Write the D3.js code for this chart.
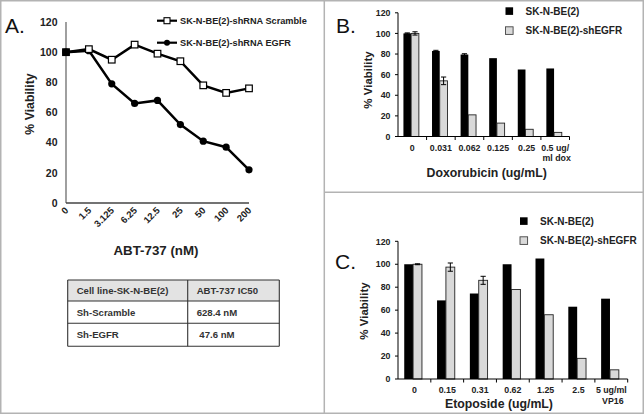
<!DOCTYPE html>
<html><head><meta charset="utf-8">
<script src="https://cdn.jsdelivr.net/npm/d3@7"></script>
<style>body{margin:0;background:#fff}svg{display:block;font-family:"Liberation Sans",Arial,sans-serif}</style>
</head><body><svg id="c" width="644" height="415"></svg>
<script>
// ---- Panel A data ----
const abtDoses = ["0","1.5","3.125","6.25","12.5","25","50","100","200"];
const scrambleVals = [100,102,95,105,99,94,78,73,76];
const egfrVals = [100,101,79,66,68,52,41,37,22];
const viabilityTicks = [0,20,40,60,80,100,120];
const tableHeader = ["Cell line-SK-N-BE(2)","ABT-737 IC50"];
const tableRows = [["Sh-Scramble","628.4 nM"],["Sh-EGFR"," 47.6 nM"]];
// ---- Panel B data ----
const doxDoses = [["0"],["0.031"],["0.062"],["0.125"],["0.25"],["0.5 ug/","ml dox"]];
const doxParent = [100,83,79.5,76,65,66];
const doxParentErr = [0.5,0.6,0.8,0,0,0];
const doxSh = [100,54,21,13,7,4];
const doxShErr = [1.6,3.7,0,0,0,0];
// ---- Panel C data ----
const etoDoses = [["0"],["0.15"],["0.31"],["0.62"],["1.25"],["2.5"],["5 ug/ml","VP16"]];
const etoParent = [100,68.5,74.5,100,105,63,70];
const etoParentErr = [0,0,0,0,0,0,0];
const etoSh = [100,97.5,86,78,56,18,8];
const etoShErr = [0.4,3.6,3.5,0,0,0,0];
const seriesNames = ["SK-N-BE(2)","SK-N-BE(2)-shEGFR"];
const lineNames = ["SK-N-BE(2)-shRNA Scramble","SK-N-BE(2)-shRNA EGFR"];

const svg = d3.select("#c");
const B = "bold";

// frame
svg.append("rect").attr("x",0.75).attr("y",0.75).attr("width",642.5).attr("height",412.5)
  .attr("fill","none").attr("stroke","#b3b3b3").attr("stroke-width",1.5);
svg.append("line").attr("x1",324.3).attr("x2",324.3).attr("y1",0).attr("y2",414).attr("stroke","#b3b3b3").attr("stroke-width",1.5);
svg.append("line").attr("x1",324.3).attr("x2",644).attr("y1",192.3).attr("y2",192.3).attr("stroke","#b3b3b3").attr("stroke-width",1.5);

// panel letters
[["A.",5,33.3],["B.",336,33.3],["C.",335,269]].forEach(([t,x,y])=>
  svg.append("text").attr("x",x).attr("y",y).attr("font-size",21).attr("fill","#111").text(t));

// ===== Panel A =====
{
  const x = d3.scalePoint().domain(abtDoses).range([66,249]).padding(0);
  const y = d3.scaleLinear().domain([0,120]).range([203,22]);
  const g = svg.append("g");
  g.append("line").attr("x1",66).attr("x2",66).attr("y1",y(120)).attr("y2",y(0)).attr("stroke","#888").attr("stroke-width",1.6);
  g.append("line").attr("x1",66).attr("x2",249).attr("y1",y(0)).attr("y2",y(0)).attr("stroke","#444").attr("stroke-width",1.6);
  g.selectAll(".yt").data(viabilityTicks).join("text").attr("x",57.5).attr("y",d=>y(d)+3.8)
    .attr("text-anchor","end").attr("font-size",10.5).attr("font-weight",B).attr("fill","#222").text(d=>d);
  g.selectAll(".xt").data(abtDoses).join("text")
    .attr("transform",d=>`translate(${x(d)+3},${211}) rotate(-45)`)
    .attr("text-anchor","end").attr("font-size",9.5).attr("font-weight",B).attr("fill","#222").text(d=>d);
  g.append("text").attr("x",156).attr("y",254.5).attr("text-anchor","middle").attr("font-size",13.3).attr("font-weight",B).attr("fill","#222").text("ABT-737 (nM)");
  g.append("text").attr("transform","translate(34,104) rotate(-90)").attr("text-anchor","middle").attr("font-size",12.3).attr("font-weight",B).attr("fill","#222").text("% Viability");
  const line = d3.line().x((d,i)=>x(abtDoses[i])).y(d=>y(d));
  g.append("path").attr("d",line(scrambleVals)).attr("fill","none").attr("stroke","#000").attr("stroke-width",2.5);
  g.append("path").attr("d",line(egfrVals)).attr("fill","none").attr("stroke","#000").attr("stroke-width",2.5);
  g.selectAll(".cs").data(egfrVals).join("circle").attr("cx",(d,i)=>x(abtDoses[i])).attr("cy",d=>y(d)).attr("r",3.6).attr("fill","#000");
  g.selectAll(".sq").data(scrambleVals).join("rect").attr("x",(d,i)=>x(abtDoses[i])-3.3).attr("y",d=>y(d)-3.3)
    .attr("width",6.6).attr("height",6.6).attr("fill",(d,i)=>i===0?"#000":"#fff").attr("stroke","#000").attr("stroke-width",1.2);
  // legend
  [[20.7,"sq"],[42.7,"c"]].forEach(([ly,m],i)=>{
    g.append("line").attr("x1",157).attr("x2",177).attr("y1",ly).attr("y2",ly).attr("stroke","#000").attr("stroke-width",2.2);
    if(m==="sq") g.append("rect").attr("x",164).attr("y",ly-3).attr("width",6).attr("height",6).attr("fill","#fff").attr("stroke","#000").attr("stroke-width",1.1);
    else g.append("circle").attr("cx",167).attr("cy",ly).attr("r",3).attr("fill","#000");
    g.append("text").attr("x",180).attr("y",ly+3.3).attr("font-size",9.2).attr("font-weight",B).attr("fill","#222").text(lineNames[i]);
  });
  // table
  const tx0=67.7, tx1=187.7, tx2=279.3, rowsY=[280,301,323.3,346.3];
  g.append("rect").attr("x",tx0).attr("y",rowsY[0]).attr("width",tx2-tx0).attr("height",rowsY[1]-rowsY[0]).attr("fill","#e3e3e3");
  const tl = g.append("g").attr("stroke","#333").attr("stroke-width",1.1);
  rowsY.forEach(yy=>tl.append("line").attr("x1",tx0).attr("x2",tx2).attr("y1",yy).attr("y2",yy));
  [tx0,tx1,tx2].forEach(xx=>tl.append("line").attr("x1",xx).attr("x2",xx).attr("y1",rowsY[0]).attr("y2",rowsY[3]));
  const allRows=[tableHeader,...tableRows];
  allRows.forEach((r,i)=>{
    const by=(rowsY[i]+rowsY[i+1])/2+3.4;
    g.append("text").attr("x",76.7).attr("y",by).attr("font-size",9.6).attr("font-weight",B).attr("fill","#333").text(r[0]);
    g.append("text").attr("x",196.7).attr("y",by).attr("font-size",9.6).attr("font-weight",B).attr("fill","#333").attr("xml:space","preserve").style("white-space","pre").text(r[1]);
  });
}

// ===== Bar panels =====
function barPanel(o){
  const cats=o.cats.map(c=>c.join(" "));
  const x=d3.scaleBand().domain(cats).range([398,o.xEnd]).padding(0);
  const y=d3.scaleLinear().domain([0,120]).range([o.y0,o.y120]);
  const g=svg.append("g");
  const bw=x.bandwidth()*0.27, off=x.bandwidth()*0.19;
  const drawSeries=(vals,errs,k,fill)=>{
    g.selectAll(null).data(vals).join("rect").attr("x",(d,i)=>x(cats[i])+off+k*bw).attr("y",d=>y(d))
      .attr("width",bw).attr("height",d=>y(0)-y(d)).attr("fill",fill).attr("stroke","#222").attr("stroke-width",k?0.9:0);
    vals.forEach((v,i)=>{ if(errs[i]>0){
      const cx=x(cats[i])+off+k*bw+bw/2;
      g.append("line").attr("x1",cx).attr("x2",cx).attr("y1",y(v+errs[i])).attr("y2",y(v-errs[i])).attr("stroke","#000").attr("stroke-width",1);
      [v+errs[i],v-errs[i]].forEach(e=>g.append("line").attr("x1",cx-2.6).attr("x2",cx+2.6).attr("y1",y(e)).attr("y2",y(e)).attr("stroke","#000").attr("stroke-width",1));
    }});
  };
  drawSeries(o.a,o.ae,0,"#000");
  drawSeries(o.b,o.be,1,"#d9d9d9");
  // axes
  g.append("line").attr("x1",398).attr("x2",398).attr("y1",y(120)).attr("y2",y(0)).attr("stroke","#000").attr("stroke-width",1);
  g.append("line").attr("x1",398).attr("x2",o.xEnd).attr("y1",y(0)).attr("y2",y(0)).attr("stroke","#000").attr("stroke-width",1);
  viabilityTicks.forEach(t=>{
    g.append("line").attr("x1",395).attr("x2",398).attr("y1",y(t)).attr("y2",y(t)).attr("stroke","#000");
    g.append("text").attr("x",390.5).attr("y",y(t)+3.2).attr("text-anchor","end").attr("font-size",8.8).attr("font-weight",B).attr("fill","#222").text(t);
  });
  cats.forEach((c,i)=>{
    const xe=x(c)+x.bandwidth();
    g.append("line").attr("x1",xe).attr("x2",xe).attr("y1",y(0)).attr("y2",y(0)+3.5).attr("stroke","#000");
    o.cats[i].forEach((ln,j)=>g.append("text").attr("x",x(c)+x.bandwidth()/2+(j?1.5:0)).attr("y",o.tickY+j*10.5)
      .attr("text-anchor","middle").attr("font-size",8.8).attr("font-weight",B).attr("fill","#222").text(ln));
  });
  g.append("text").attr("x",o.titleX).attr("y",o.titleY).attr("text-anchor","middle").attr("font-size",12.3).attr("font-weight",B).attr("fill","#222").text(o.title);
  g.append("text").attr("transform",`translate(${o.ylx},${o.yly}) rotate(-90)`).attr("text-anchor","middle").attr("font-size",11.5).attr("font-weight",B).attr("fill","#222").text("% Viability");
  // legend
  seriesNames.forEach((n,i)=>{
    const ly=o.legY+i*19.5;
    g.append("rect").attr("x",o.legX).attr("y",ly).attr("width",7.6).attr("height",7.6).attr("fill",i?"#d9d9d9":"#000").attr("stroke",i?"#444":"none").attr("stroke-width",0.9);
    g.append("text").attr("x",o.legX+20).attr("y",ly+7.2).attr("font-size",10).attr("font-weight",B).attr("fill","#222").text(n);
  });
}
barPanel({cats:doxDoses,a:doxParent,ae:doxParentErr,b:doxSh,be:doxShErr,xEnd:569.5,y0:136.5,y120:12.8,
  tickY:150.5,title:"Doxorubicin (ug/mL)",titleX:486.7,titleY:177,ylx:372,yly:80,legX:505.5,legY:7.3});
barPanel({cats:etoDoses,a:etoParent,ae:etoParentErr,b:etoSh,be:etoShErr,xEnd:627.7,y0:379,y120:241.3,
  tickY:393,title:"Etoposide (ug/mL)",titleX:499,titleY:407.5,ylx:367.5,yly:311,legX:520,legY:217.3});
</script></body></html>
